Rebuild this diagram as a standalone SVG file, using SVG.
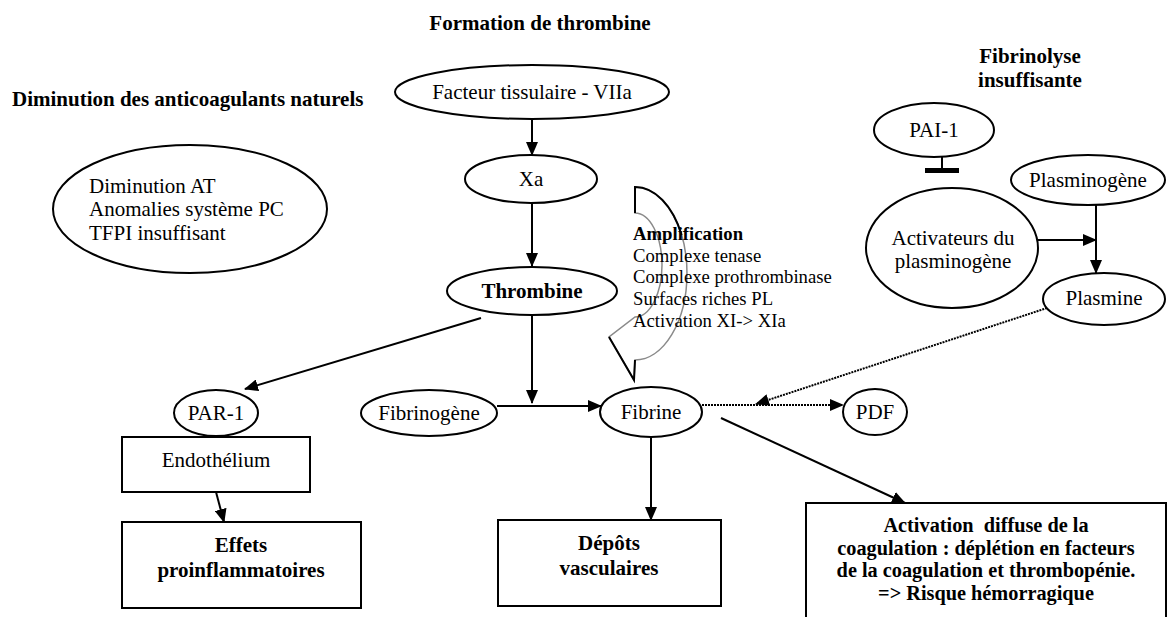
<svg xmlns="http://www.w3.org/2000/svg" width="1172" height="617" viewBox="0 0 1172 617">
<defs>
<marker id="ahs" markerWidth="14" markerHeight="12" refX="13" refY="6" orient="auto" markerUnits="userSpaceOnUse"><path d="M0,0 L14,6 L0,12 Z" fill="#000"/></marker>
</defs>
<style>
.n{fill:#fff;stroke:#000;stroke-width:2}
.t{font-family:"Liberation Serif","Times New Roman",serif;font-size:21px;fill:#000}
.b{font-weight:bold}
.m{text-anchor:middle}
.c{stroke:#000;stroke-width:2;fill:none}
.d{stroke:#000;stroke-width:2;fill:none;stroke-dasharray:2 1}
.a{font-size:20.3px}
</style>
<rect width="1172" height="617" fill="#fff"/>
<text class="t b m" x="540" y="30">Formation de thrombine</text>
<text class="t b" x="12" y="106">Diminution des anticoagulants naturels</text>
<text class="t b m" x="1030" y="63">Fibrinolyse</text>
<text class="t b m" x="1030" y="87">insuffisante</text>

<g id="connectors">
<line class="c" x1="532" y1="119" x2="532" y2="155" marker-end="url(#ahs)"/>
<line class="c" x1="532" y1="203" x2="532" y2="266" marker-end="url(#ahs)"/>
<line class="c" x1="481" y1="318" x2="245" y2="389" marker-end="url(#ahs)"/>
<line class="c" x1="532" y1="315" x2="532" y2="403" marker-end="url(#ahs)"/>
<line class="c" x1="497" y1="406" x2="601" y2="406" marker-end="url(#ahs)"/>
<line class="c" x1="216" y1="492" x2="224" y2="522" marker-end="url(#ahs)"/>
<line class="c" x1="651" y1="437" x2="651" y2="520" marker-end="url(#ahs)"/>
<line class="c" x1="721" y1="418" x2="905" y2="503" marker-end="url(#ahs)"/>
<line class="d" x1="702" y1="405" x2="843" y2="405" marker-end="url(#ahs)"/>
<line class="d" x1="1047" y1="308" x2="756" y2="404" marker-end="url(#ahs)"/>
<line class="c" x1="1096" y1="205" x2="1096" y2="273" marker-end="url(#ahs)"/>
<line class="c" x1="1027" y1="240" x2="1096" y2="240" marker-end="url(#ahs)"/>
<line class="c" x1="942" y1="157" x2="942" y2="170"/>
<rect x="925" y="168" width="34" height="5" fill="#000"/>
</g>

<g id="amplification">
<path d="M635,187 A52,86.5 0 0 1 635,360 L634,380 L609,337 L635,317 A27,52 0 0 0 635,213 Z" fill="none" stroke="#8a8a8a" stroke-width="1.5"/>
<path d="M635,213 L635,187 A52,86.5 0 0 1 681.6,235" fill="none" stroke="#000" stroke-width="2"/>
<path d="M609,337 L634,380 L635,360" fill="none" stroke="#000" stroke-width="2"/>
<text class="t" style="font-size:18.7px" x="633" y="240"><tspan class="b">Amplification</tspan><tspan x="633" dy="21.7">Complexe tenase</tspan><tspan x="633" dy="21.7">Complexe prothrombinase</tspan><tspan x="633" dy="21.7">Surfaces riches PL</tspan><tspan x="633" dy="21.7">Activation XI-&gt; XIa</tspan></text>
</g>

<g id="facteur"><ellipse class="n" cx="532" cy="92" rx="137" ry="27"/><text class="t m" x="532" y="99">Facteur tissulaire - VIIa</text></g>
<g id="xa"><ellipse class="n" cx="531" cy="179" rx="66" ry="24"/><text class="t m" x="531" y="186">Xa</text></g>
<g id="thrombine"><ellipse class="n" cx="532" cy="291" rx="85" ry="24"/><text class="t b m" x="532" y="298">Thrombine</text></g>
<g id="diminution"><ellipse class="n" cx="190" cy="209" rx="137" ry="64"/><text class="t" x="89" y="193">Diminution AT</text><text class="t" x="89" y="216">Anomalies système PC</text><text class="t" x="89" y="240">TFPI insuffisant</text></g>
<g id="par1"><ellipse class="n" cx="216" cy="413" rx="42" ry="23"/><text class="t m" x="216" y="420">PAR-1</text></g>
<g id="endothelium"><rect class="n" x="122" y="437" width="188" height="55"/><text class="t m" x="216" y="467">Endothélium</text></g>
<g id="effets"><rect class="n" x="122" y="522" width="239" height="86"/><text class="t b m" x="241" y="552">Effets</text><text class="t b m" x="241" y="577">proinflammatoires</text></g>
<g id="fibrinogene"><ellipse class="n" cx="429" cy="413" rx="68" ry="23"/><text class="t m" x="429" y="420">Fibrinogène</text></g>
<g id="fibrine"><ellipse class="n" cx="651" cy="412" rx="51" ry="25"/><text class="t m" x="651" y="419">Fibrine</text></g>
<g id="pdf"><ellipse class="n" cx="875" cy="412" rx="32" ry="23"/><text class="t m" x="875" y="419">PDF</text></g>
<g id="depots"><rect class="n" x="498" y="520" width="223" height="86"/><text class="t b m" x="609" y="550">Dépôts</text><text class="t b m" x="609" y="575">vasculaires</text></g>
<g id="activation"><rect class="n" x="806" y="503" width="360" height="130"/><text class="t b m a" x="986" y="532" xml:space="preserve">Activation  diffuse de la</text><text class="t b m a" x="986" y="554.5">coagulation : déplétion en facteurs</text><text class="t b m a" x="986" y="577">de la coagulation et thrombopénie.</text><text class="t b m a" x="986" y="599.5">=&gt; Risque hémorragique</text></g>
<g id="pai1"><ellipse class="n" cx="934" cy="130" rx="60" ry="27"/><text class="t m" x="934" y="137">PAI-1</text></g>
<g id="plasminogene"><ellipse class="n" cx="1088" cy="180" rx="77" ry="25"/><text class="t m" x="1088" y="187">Plasminogène</text></g>
<g id="activateurs"><ellipse class="n" cx="952" cy="248" rx="86" ry="60"/><text class="t m" x="953" y="245">Activateurs du</text><text class="t m" x="953" y="268">plasminogène</text></g>
<g id="plasmine"><ellipse class="n" cx="1104" cy="299" rx="61" ry="26"/><text class="t m" x="1104" y="305">Plasmine</text></g>
</svg>
